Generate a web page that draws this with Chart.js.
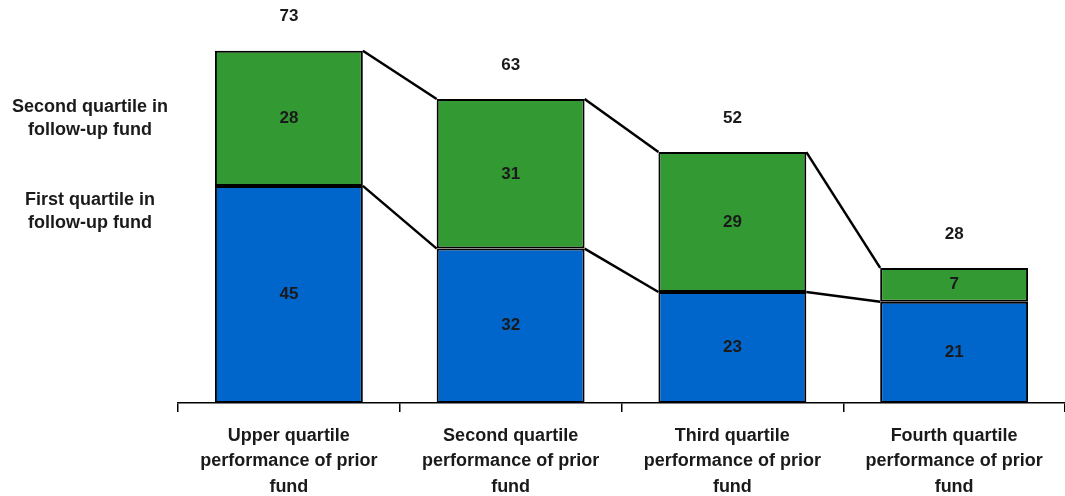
<!DOCTYPE html>
<html>
<head>
<meta charset="utf-8">
<script src="https://cdn.jsdelivr.net/npm/chart.js@4.4.1/dist/chart.umd.min.js"></script>
<style>
  html, body { margin: 0; padding: 0; background: #fff; }
  #wrap { width: 1065px; height: 496px; position: relative; }
</style>
</head>
<body>
<div id="wrap"><canvas id="c"></canvas></div>
<script>
// Prior fund performance quartile (x categories), each split into follow-up fund quartiles
const categories = [
  ['Upper quartile', 'performance of prior', 'fund'],
  ['Second quartile', 'performance of prior', 'fund'],
  ['Third quartile', 'performance of prior', 'fund'],
  ['Fourth quartile', 'performance of prior', 'fund']
];
const firstQuartile = [45, 32, 23, 21];
const secondQuartile = [28, 31, 29, 7];
const totals = [73, 63, 52, 28];
const sideLabels = [
  ['Second quartile in', 'follow-up fund'],
  ['First quartile in', 'follow-up fund']
];

const FONT = '"Liberation Sans", Arial, sans-serif';
const TEXT = '#1a1a1a';

// Connector lines between the tops of neighbouring bars
const connectors = {
  id: 'connectors',
  afterDatasetsDraw(chart) {
    const ctx = chart.ctx;
    ctx.save();
    ctx.strokeStyle = '#000';
    ctx.lineWidth = 2.5;
    [0, 1].forEach(di => {
      const els = chart.getDatasetMeta(di).data;
      for (let i = 0; i < els.length - 1; i++) {
        const a = els[i], b = els[i + 1];
        ctx.beginPath();
        ctx.moveTo(a.x + a.width / 2, a.y);
        ctx.lineTo(b.x - b.width / 2, b.y);
        ctx.stroke();
      }
    });
    ctx.restore();
  }
};

// Segment values, totals and side captions
const labels = {
  id: 'labels',
  afterDraw(chart) {
    const ctx = chart.ctx;
    ctx.save();
    ctx.fillStyle = TEXT;
    ctx.font = 'bold 17px ' + FONT;
    ctx.textAlign = 'center';
    ctx.textBaseline = 'middle';
    chart.data.datasets.forEach((ds, di) => {
      chart.getDatasetMeta(di).data.forEach((el, i) => {
        ctx.fillText(String(ds.data[i]), el.x, (el.y + el.base) / 2);
      });
    });
    const top = chart.getDatasetMeta(1).data;
    top.forEach((el, i) => {
      ctx.fillText(String(totals[i]), el.x, el.y - 34);
    });
    ctx.font = 'bold 18px ' + FONT;
    const ys = [[107, 130], [200, 223]];
    sideLabels.forEach((lines, k) => {
      lines.forEach((t, j) => ctx.fillText(t, 90, ys[k][j]));
    });
    ctx.restore();
  }
};

new Chart(document.getElementById('c'), {
  type: 'bar',
  data: {
    labels: categories,
    datasets: [
      {
        label: 'First quartile in follow-up fund',
        data: firstQuartile,
        backgroundColor: '#0066cc',
        borderColor: '#000',
        borderWidth: 2,
        borderSkipped: false,
        barPercentage: 0.667,
        categoryPercentage: 1
      },
      {
        label: 'Second quartile in follow-up fund',
        data: secondQuartile,
        backgroundColor: '#339933',
        borderColor: '#000',
        borderWidth: 2,
        borderSkipped: false,
        barPercentage: 0.667,
        categoryPercentage: 1
      }
    ]
  },
  options: {
    responsive: true,
    maintainAspectRatio: false,
    animation: false,
    layout: { padding: { left: 178, top: 17, right: 0, bottom: 0 } },
    plugins: { legend: { display: false }, tooltip: { enabled: false } },
    scales: {
      x: {
        stacked: true,
        offset: true,
        grid: {
          offset: true,
          drawOnChartArea: false,
          drawTicks: true,
          tickLength: 9,
          color: '#000',
          lineWidth: 1.5
        },
        border: { display: true, color: '#000', width: 1.5 },
        ticks: {
          color: TEXT,
          font: { family: FONT, size: 18, weight: 'bold', lineHeight: 1.42 },
          padding: 11,
          maxRotation: 0,
          autoSkip: false
        },
        afterFit(scale) { scale.height = 93; }
      },
      y: {
        stacked: true,
        display: false,
        min: 0,
        max: 80
      }
    }
  },
  plugins: [connectors, labels]
});
</script>
</body>
</html>
